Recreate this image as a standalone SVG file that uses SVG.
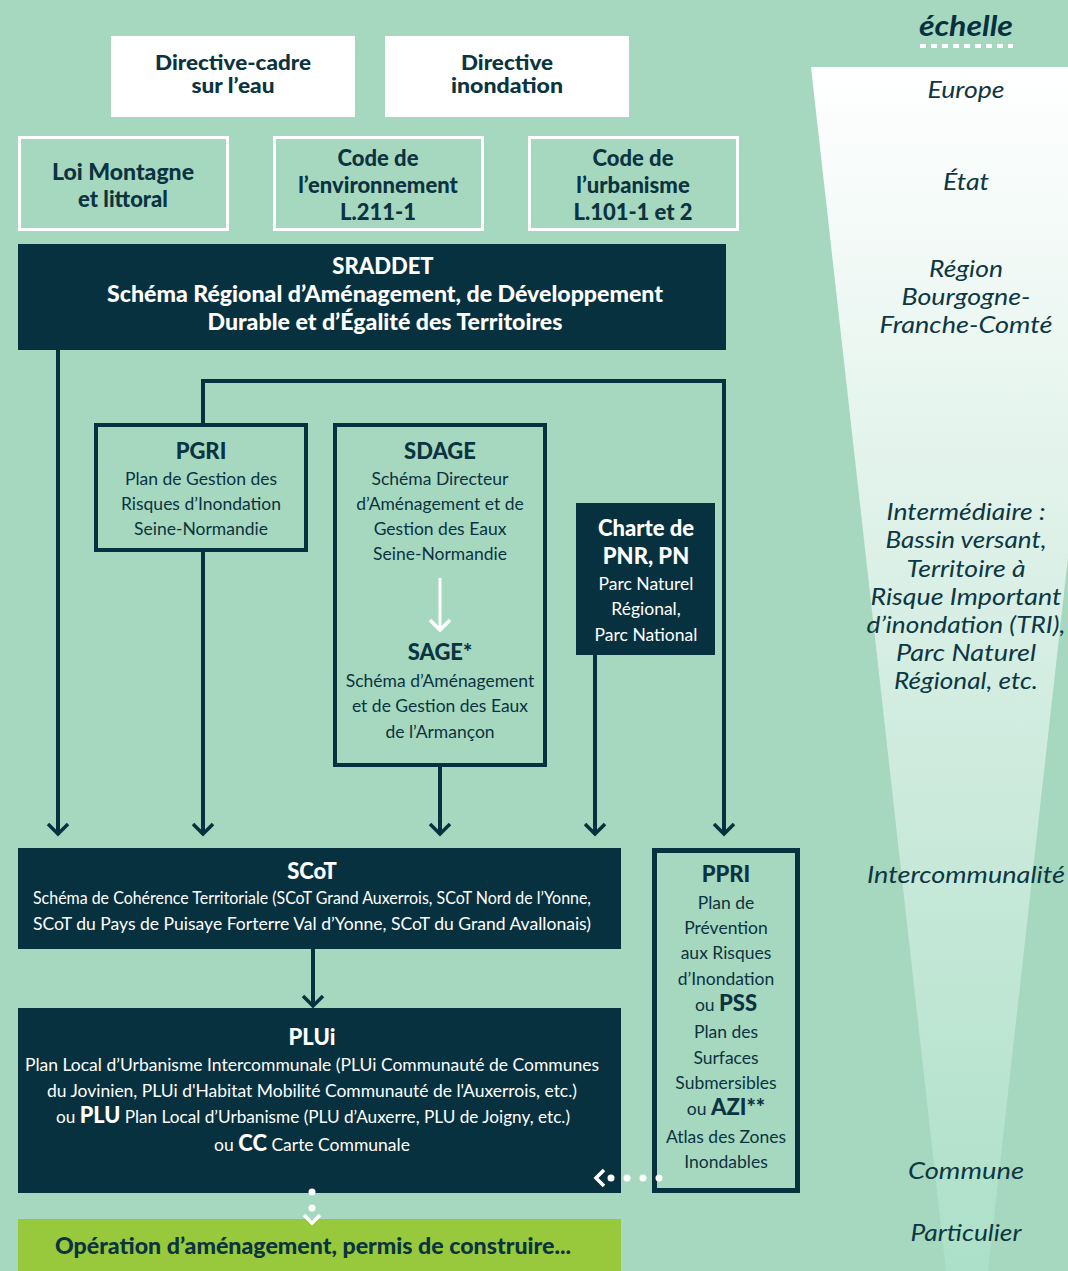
<svg xmlns="http://www.w3.org/2000/svg" width="1068" height="1271" viewBox="0 0 1068 1271">
<style>
.dk{fill:#08313f}
.ol{fill:none;stroke:#08313f;stroke-width:4}
.wo{fill:none;stroke:#ffffff;stroke-width:3}
.t{font-family:Lato,"Open Sans","Liberation Sans",sans-serif;text-anchor:middle}
.b{font-weight:900;font-size:22px}
.r{font-size:17.5px}
.dc{fill:#0b3340}
.wc{fill:#ffffff}
.sc{font-family:Lato,"Open Sans","Liberation Sans",sans-serif;font-style:italic;font-size:23px;fill:#0d3743;text-anchor:middle}
.con{fill:none;stroke:#08313f;stroke-width:4}
</style>
<defs>
<linearGradient id="wg" x1="0" y1="0" x2="0" y2="1">
<stop offset="0" stop-color="#ffffff"/>
<stop offset="0.5" stop-color="#d4ede2"/>
<stop offset="1" stop-color="#ade0c8"/>
</linearGradient>
<marker id="ah" markerUnits="userSpaceOnUse" markerWidth="16" markerHeight="26" viewBox="-3 -13 16 26" refX="10" refY="0" orient="auto">
<path d="M0,-10 L10,0 L0,10" fill="none" stroke="#08313f" stroke-width="3.5"/>
</marker>
</defs>
<rect x="0" y="0" width="1068" height="1271" fill="#a6d8c0"/>
<polygon points="811,67 1123,67 988,1271 946,1271" fill="url(#wg)"/>

<g id="scale">
<text x="966" y="36" class="sc" style="font-weight:bold;font-size:28px;fill:#08313f" textLength="94" lengthAdjust="spacingAndGlyphs">échelle</text>
<line x1="920" y1="46" x2="1013" y2="46" stroke="#ffffff" stroke-width="4" stroke-dasharray="6,5"/>
<text x="966" y="98" class="sc" textLength="77" lengthAdjust="spacingAndGlyphs">Europe</text>
<text x="966" y="190" class="sc" textLength="46" lengthAdjust="spacingAndGlyphs">État</text>
<text x="966" y="277" class="sc" textLength="74" lengthAdjust="spacingAndGlyphs">Région</text>
<text x="966" y="305" class="sc" textLength="129" lengthAdjust="spacingAndGlyphs">Bourgogne-</text>
<text x="966" y="333" class="sc" textLength="173" lengthAdjust="spacingAndGlyphs">Franche-Comté</text>
<text x="966" y="520" class="sc" textLength="159" lengthAdjust="spacingAndGlyphs">Intermédiaire :</text>
<text x="966" y="548" class="sc" textLength="161" lengthAdjust="spacingAndGlyphs">Bassin versant,</text>
<text x="966" y="577" class="sc" textLength="119" lengthAdjust="spacingAndGlyphs">Territoire à</text>
<text x="966" y="605" class="sc" textLength="191" lengthAdjust="spacingAndGlyphs">Risque Important</text>
<text x="966" y="633" class="sc" textLength="199" lengthAdjust="spacingAndGlyphs">d’inondation (TRI),</text>
<text x="966" y="661" class="sc" textLength="140" lengthAdjust="spacingAndGlyphs">Parc Naturel</text>
<text x="966" y="689" class="sc" textLength="144" lengthAdjust="spacingAndGlyphs">Régional, etc.</text>
<text x="966" y="883" class="sc" textLength="198" lengthAdjust="spacingAndGlyphs">Intercommunalité</text>
<text x="966" y="1179" class="sc" textLength="116" lengthAdjust="spacingAndGlyphs">Commune</text>
<text x="966" y="1241" class="sc" textLength="111" lengthAdjust="spacingAndGlyphs">Particulier</text>
</g>

<g id="dce">
<rect x="111" y="36" width="244" height="81" fill="#ffffff"/>
<text class="t b dc" x="233" y="70" style="font-size:20px" textLength="156" lengthAdjust="spacingAndGlyphs">Directive-cadre</text>
<text class="t b dc" x="233" y="93" style="font-size:20px" textLength="83" lengthAdjust="spacingAndGlyphs">sur l’eau</text>
</g>
<g id="di">
<rect x="385" y="36" width="244" height="81" fill="#ffffff"/>
<text class="t b dc" x="507" y="70" style="font-size:20px" textLength="92" lengthAdjust="spacingAndGlyphs">Directive</text>
<text class="t b dc" x="507" y="93" style="font-size:20px" textLength="112" lengthAdjust="spacingAndGlyphs">inondation</text>
</g>
<g id="loi">
<rect x="19.5" y="137.5" width="208" height="92" class="wo"/>
<text class="t b dc" x="123" y="180" textLength="142" lengthAdjust="spacingAndGlyphs">Loi Montagne</text>
<text class="t b dc" x="123" y="207">et littoral</text>
</g>
<g id="cenv">
<rect x="274.5" y="137.5" width="208" height="92" class="wo"/>
<text class="t b dc" x="378" y="166">Code de</text>
<text class="t b dc" x="378" y="193">l’environnement</text>
<text class="t b dc" x="378" y="220">L.211-1</text>
</g>
<g id="curb">
<rect x="529.5" y="137.5" width="208" height="92" class="wo"/>
<text class="t b dc" x="633" y="166">Code de</text>
<text class="t b dc" x="633" y="193">l’urbanisme</text>
<text class="t b dc" x="633" y="220">L.101-1 et 2</text>
</g>
<g id="sraddet">
<rect x="18" y="244" width="708" height="106" class="dk"/>
<text class="t b wc" x="383" y="274">SRADDET</text>
<text class="t b wc" x="385" y="302" textLength="556" lengthAdjust="spacingAndGlyphs">Schéma Régional d’Aménagement, de Développement</text>
<text class="t b wc" x="385" y="330" textLength="355" lengthAdjust="spacingAndGlyphs">Durable et d’Égalité des Territoires</text>
</g>
<g id="pgri">
<rect x="96" y="425" width="210" height="125" class="ol"/>
<text class="t b dc" x="201" y="459">PGRI</text>
<text class="t r dc" x="201" y="485">Plan de Gestion des</text>
<text class="t r dc" x="201" y="510">Risques d’Inondation</text>
<text class="t r dc" x="201" y="535">Seine-Normandie</text>
</g>
<g id="sdage">
<rect x="335" y="425" width="210" height="340" class="ol"/>
<text class="t b dc" x="440" y="459">SDAGE</text>
<text class="t r dc" x="440" y="485">Schéma Directeur</text>
<text class="t r dc" x="440" y="510">d’Aménagement et de</text>
<text class="t r dc" x="440" y="535">Gestion des Eaux</text>
<text class="t r dc" x="440" y="560">Seine-Normandie</text>
<text class="t b dc" x="440" y="660">SAGE*</text>
<text class="t r dc" x="440" y="687">Schéma d’Aménagement</text>
<text class="t r dc" x="440" y="712">et de Gestion des Eaux</text>
<text class="t r dc" x="440" y="738">de l’Armançon</text>
</g>
<g id="charte">
<rect x="576" y="503" width="139" height="152" class="dk"/>
<text class="t b wc" x="646" y="536">Charte de</text>
<text class="t b wc" x="646" y="564">PNR, PN</text>
<text class="t r wc" x="646" y="590">Parc Naturel</text>
<text class="t r wc" x="646" y="615">Régional,</text>
<text class="t r wc" x="646" y="641">Parc National</text>
</g>
<g id="scot">
<rect x="18" y="848" width="603" height="101" class="dk"/>
<text class="t b wc" x="312" y="879">SCoT</text>
<text class="t r wc" x="312" y="904" textLength="558" lengthAdjust="spacingAndGlyphs">Schéma de Cohérence Territoriale (SCoT Grand Auxerrois, SCoT Nord de l’Yonne,</text>
<text class="t r wc" x="312" y="930" textLength="558" lengthAdjust="spacingAndGlyphs">SCoT du Pays de Puisaye Forterre Val d’Yonne, SCoT du Grand Avallonais)</text>
</g>
<g id="plui">
<rect x="18" y="1008" width="603" height="185" class="dk"/>
<text class="t b wc" x="312" y="1045">PLUi</text>
<text class="t r wc" x="312" y="1071" textLength="574" lengthAdjust="spacingAndGlyphs">Plan Local d’Urbanisme Intercommunale (PLUi Communauté de Communes</text>
<text class="t r wc" x="312" y="1097" textLength="530" lengthAdjust="spacingAndGlyphs">du Jovinien,  PLUi d'Habitat Mobilité Communauté de l'Auxerrois, etc.)</text>
<text class="t r wc" x="313" y="1123" textLength="514" lengthAdjust="spacingAndGlyphs">ou <tspan style="font-weight:900;font-size:22px">PLU</tspan> Plan Local d’Urbanisme (PLU d’Auxerre, PLU de Joigny, etc.)</text>
<text class="t r wc" x="312" y="1151">ou <tspan style="font-weight:900;font-size:22px">CC</tspan> Carte Communale</text>
</g>
<g id="ppri">
<rect x="654.5" y="850.5" width="143" height="340" fill="none" stroke="#08313f" stroke-width="5"/>
<text class="t b dc" x="726" y="882">PPRI</text>
<text class="t r dc" x="726" y="909">Plan de</text>
<text class="t r dc" x="726" y="934">Prévention</text>
<text class="t r dc" x="726" y="959">aux Risques</text>
<text class="t r dc" x="726" y="985">d’Inondation</text>
<text class="t r dc" x="726" y="1011">ou <tspan style="font-weight:900;font-size:22px">PSS</tspan></text>
<text class="t r dc" x="726" y="1038">Plan des</text>
<text class="t r dc" x="726" y="1064">Surfaces</text>
<text class="t r dc" x="726" y="1089">Submersibles</text>
<text class="t r dc" x="726" y="1115">ou <tspan style="font-weight:900;font-size:22px">AZI**</tspan></text>
<text class="t r dc" x="726" y="1143">Atlas des Zones</text>
<text class="t r dc" x="726" y="1168">Inondables</text>
</g>
<g id="operation">
<rect x="18" y="1219" width="603" height="52" fill="#98c93c"/>
<text class="t b dc" x="313" y="1254" textLength="516" lengthAdjust="spacingAndGlyphs">Opération d’aménagement, permis de construire...</text>
</g>

<g id="connectors">
<path class="con" d="M58,350 V834" marker-end="url(#ah)"/>
<path class="con" d="M203,426 V381 H724 V834" marker-end="url(#ah)"/>
<path class="con" d="M203,551 V834" marker-end="url(#ah)"/>
<path class="con" d="M440,766 V834" marker-end="url(#ah)"/>
<path class="con" d="M595,655 V834" marker-end="url(#ah)"/>
<path class="con" d="M313,949 V1006" marker-end="url(#ah)"/>
<g id="sdage-sage-arrow">
<line x1="440" y1="578" x2="440" y2="628" stroke="#ffffff" stroke-width="3"/>
<path d="M430,620 L440,630 L450,620" fill="none" stroke="#ffffff" stroke-width="3.5"/>
</g>
<g id="ppri-plu-arrow" fill="#ffffff">
<circle cx="659" cy="1178" r="3.5"/>
<circle cx="643" cy="1178" r="3.5"/>
<circle cx="627" cy="1178" r="3.5"/>
<circle cx="611" cy="1178" r="3.5"/>
<path d="M604,1170 L596,1178 L604,1186" fill="none" stroke="#ffffff" stroke-width="3.5"/>
</g>
<g id="plu-op-arrow" fill="#ffffff">
<circle cx="312" cy="1192" r="3.5"/>
<circle cx="312" cy="1208" r="3.5"/>
<path d="M304,1215 L312,1223 L320,1215" fill="none" stroke="#ffffff" stroke-width="3.5"/>
</g>
</g>
</svg>
